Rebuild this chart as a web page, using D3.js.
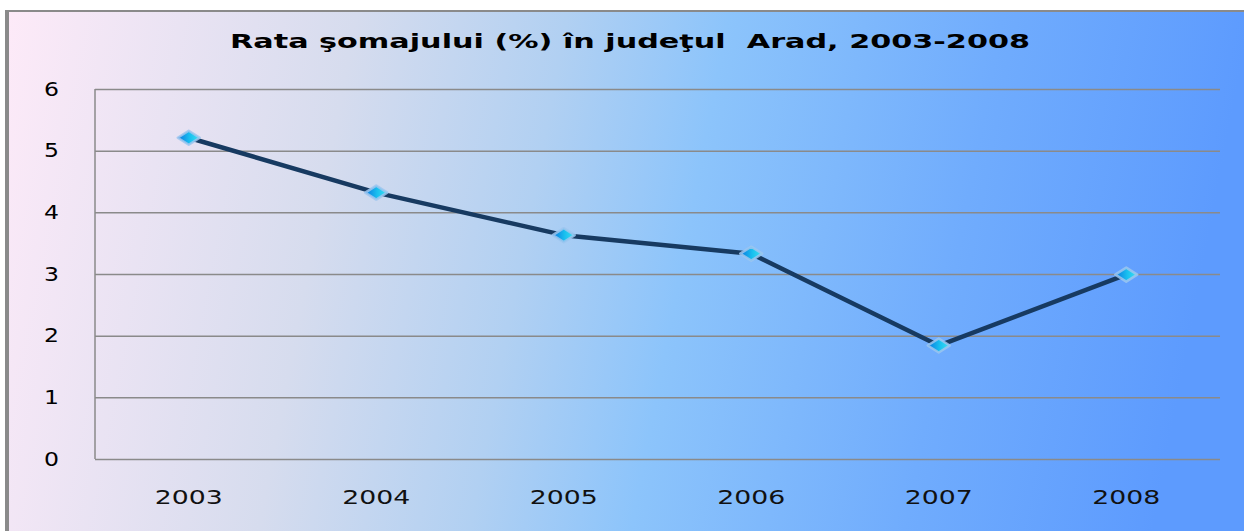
<!DOCTYPE html>
<html>
<head>
<meta charset="utf-8">
<script src="https://cdn.jsdelivr.net/npm/d3@7"></script>
<style>
  body { margin: 0; background: #fff; }
  svg { display: block; }
</style>
</head>
<body>
<div id="chart"></div>
<script>
// chart data
const years = ['2003', '2004', '2005', '2006', '2007', '2008'];
const rates = [5.21, 4.32, 3.63, 3.33, 1.84, 2.99];
const yTicks = [0, 1, 2, 3, 4, 5, 6];
const chartTitle = 'Rata şomajului (%) în judeţul  Arad, 2003-2008';

const W = 1244, H = 531;
const margin = {top: 89, right: 24, bottom: 72, left: 95};
const width = W - margin.left - margin.right,
      height = H - margin.top - margin.bottom;

const svg = d3.select('#chart').append('svg')
    .attr('width', W)
    .attr('height', H);

const defs = svg.append('defs');

// background gradient, pink on the left to blue on the right
const bg = defs.append('linearGradient')
    .attr('id', 'bg')
    .attr('x1', '0%').attr('y1', '0%')
    .attr('x2', '100%').attr('y2', '8%');
[['0%', '#fdeaf8'], ['28%', '#d6dcee'], ['45%', '#b1d0f2'], ['58%', '#8cc4fb'], ['80%', '#70acfd'], ['100%', '#5d9bfe']]
    .forEach(s => bg.append('stop').attr('offset', s[0]).attr('stop-color', s[1]));

// marker gradient
const mk = defs.append('linearGradient')
    .attr('id', 'mk')
    .attr('x1', '0%').attr('x2', '100%');
mk.append('stop').attr('offset', '0%').attr('stop-color', '#0a78e0');
mk.append('stop').attr('offset', '55%').attr('stop-color', '#19c0ef');
mk.append('stop').attr('offset', '100%').attr('stop-color', '#3ee0f2');

// frame
svg.append('rect')
    .attr('x', 9).attr('y', 12)
    .attr('width', W - 9).attr('height', H - 12)
    .attr('fill', 'url(#bg)');
svg.append('rect')
    .attr('x', 5).attr('y', 10)
    .attr('width', 4).attr('height', H - 10)
    .attr('fill', '#8a8a8a');
svg.append('rect')
    .attr('x', 5).attr('y', 10)
    .attr('width', W - 5).attr('height', 2)
    .attr('fill', '#8a8a8a');

// title (keep the double space)
svg.append('text')
    .attr('x', 630)
    .attr('y', 48)
    .attr('text-anchor', 'middle')
    .attr('font-family', 'DejaVu Sans, sans-serif')
    .attr('font-weight', 'bold')
    .attr('font-size', 20)
    .attr('textLength', 800)
    .attr('lengthAdjust', 'spacingAndGlyphs')
    .attr('fill', '#000')
    .style('white-space', 'pre')
    .text(chartTitle);

const g = svg.append('g')
    .attr('transform', 'translate(' + margin.left + ',' + margin.top + ')');

// scales
const x = d3.scaleBand()
    .domain(years)
    .range([0, width])
    .padding(0);

const y = d3.scaleLinear()
    .domain([0, 6])
    .range([height, 0]);

// y axis with gridlines
const yAxis = g.append('g')
    .call(d3.axisLeft(y).tickValues(yTicks).tickFormat(d3.format('d')).tickSize(-width).tickPadding(36));
yAxis.select('.domain').remove();
yAxis.selectAll('.tick line')
    .attr('stroke', '#8a8a8a')
    .attr('stroke-width', 1.5);
yAxis.selectAll('.tick text')
    .attr('font-family', 'DejaVu Sans, sans-serif')
    .attr('font-size', 19)
    .attr('fill', '#000')
    .attr('textLength', 15)
    .attr('lengthAdjust', 'spacingAndGlyphs');

// left axis line
g.append('line')
    .attr('x1', 0).attr('x2', 0)
    .attr('y1', 0).attr('y2', height)
    .attr('stroke', '#8a8a8a')
    .attr('stroke-width', 1.5);

// x axis
const xAxis = g.append('g')
    .attr('transform', 'translate(0,' + height + ')')
    .call(d3.axisBottom(x).tickSize(0).tickPadding(31));
xAxis.select('.domain').remove();
xAxis.selectAll('.tick text')
    .attr('font-family', 'DejaVu Sans, sans-serif')
    .attr('font-size', 20)
    .attr('fill', '#111')
    .attr('textLength', 68)
    .attr('lengthAdjust', 'spacingAndGlyphs');

const points = years.map((d, i) => [x(d) + x.bandwidth() / 2, y(rates[i])]);

// line
g.append('path')
    .datum(points)
    .attr('fill', 'none')
    .attr('stroke', '#173a61')
    .attr('stroke-width', 4.5)
    .attr('stroke-linejoin', 'round')
    .attr('d', d3.line());

// diamond markers
g.selectAll('.marker')
    .data(points)
    .enter().append('path')
    .attr('class', 'marker')
    .attr('transform', d => 'translate(' + d[0] + ',' + d[1] + ')')
    .attr('d', 'M-11,0 L0,-7 L11,0 L0,7 Z')
    .attr('fill', 'url(#mk)')
    .attr('stroke', '#9cc6ee')
    .attr('stroke-opacity', 0.85)
    .attr('stroke-width', 2.5)
    .attr('stroke-linejoin', 'round');
</script>
</body>
</html>
